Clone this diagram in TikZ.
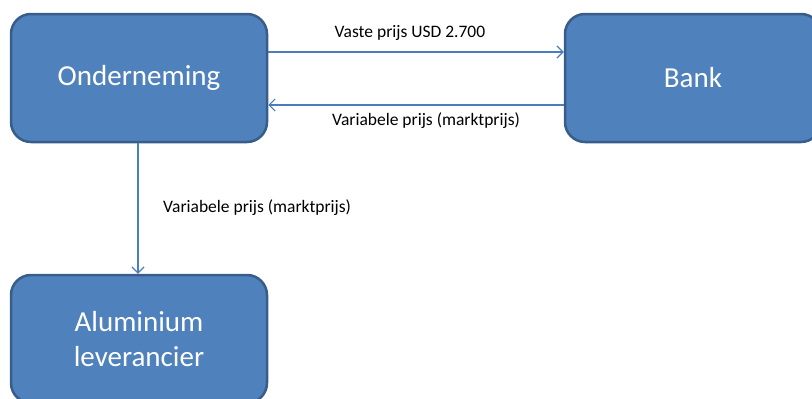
\documentclass[tikz,border=0pt]{standalone}
\usepackage{fontspec}
\setmainfont{Carlito}
\usetikzlibrary{arrows.meta}
\definecolor{boxfill}{HTML}{4F81BD}
\definecolor{boxline}{HTML}{385D8A}
\definecolor{arrline}{HTML}{4A7EBB}
\tikzset{
  box/.style={draw=boxline, line width=2.5pt, fill=boxfill, rounded corners=20pt,
    minimum width=256pt, minimum height=128pt, text=white, font=\fontsize{29}{35}\selectfont,
    align=center, inner sep=0pt},
  arr/.style={draw=arrline, line width=1.2pt, -{Straight Barb[length=6pt,width=12pt]}},
  lbl/.style={font=\fontsize{17.5}{21}\selectfont, text=black, inner sep=0pt}
}
\begin{document}
\begin{tikzpicture}[x=1pt,y=-1pt]
\useasboundingbox (0,0) rectangle (812,399);
\clip (0,0) rectangle (812,399);
\node[box] (on) at (139,78) {Onderneming};
\node[box] (bank) at (693,78) {Bank};
\node[box] (al) at (139,339) {Aluminium\\leverancier};
\draw[arr] ([yshift=26pt]on.east) -- ([yshift=26pt]bank.west);
\draw[arr] ([yshift=-27pt]bank.west) -- ([yshift=-27pt]on.east);
\draw[arr] ([xshift=-1pt]on.south) -- ([xshift=-1pt]al.north);
\node[lbl] (l1) at (410,33) {Vaste prijs USD 2.700};
\node[lbl] (l2) at (426,121) {Variabele prijs (marktprijs)};
\node[lbl, anchor=west] (l3) at (163,208) {Variabele prijs (marktprijs)};
\end{tikzpicture}
\end{document}
